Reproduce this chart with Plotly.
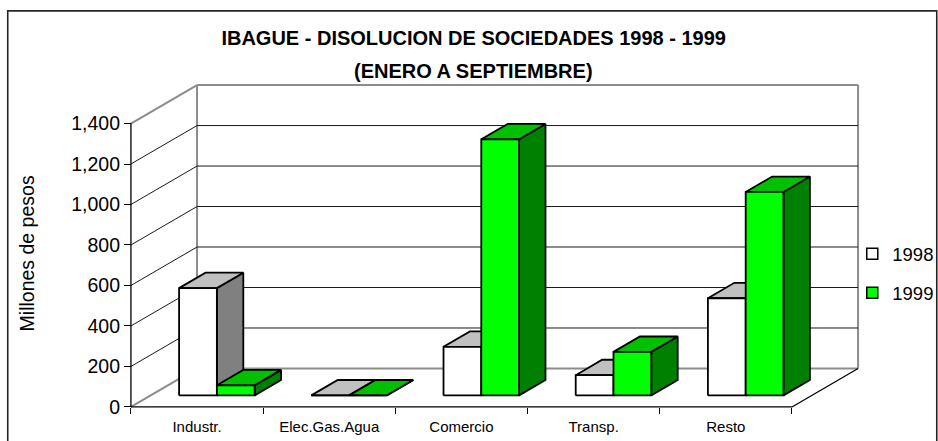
import plotly.graph_objects as go

# ---------------- data ----------------
categories = ["Industr.", "Elec.Gas.Agua", "Comercio", "Transp.", "Resto"]
values_1998 = [530, 0, 240, 100, 480]
values_1999 = [50, 0, 1265, 215, 1005]
series_names = ["1998", "1999"]
y_ticks = [0, 200, 400, 600, 800, 1000, 1200, 1400]

chart_title = "IBAGUE - DISOLUCION DE SOCIEDADES 1998 - 1999"
chart_subtitle = "(ENERO A SEPTIEMBRE)"
y_title = "Millones de pesos"

# ---------------- style ----------------
FONT = "Arial, 'Liberation Sans', sans-serif"
FACE = {  # front, top, side
    "1998": ("#FFFFFF", "#C0C0C0", "#808080"),
    "1999": ("#00FF00", "#00C000", "#008000"),
}
EDGE_GRAY = "#8C8C8C"

# oblique 3D projection (depth shift expressed in data units)
DEPTH_X = 0.5      # category units
DEPTH_Y = 190      # value units
BAR_F0, BAR_F1 = 0.3, 0.7   # bar depth slice
GAP = 1.5                   # gap width relative to one bar
BAR_W = 1.0 / (2 + GAP)

# pixel layout of the axes
FIG_W, FIG_H = 938, 441
PX0, PX_PER_X = 130.7, 132.2      # pixel of x=0, pixels per category
PY0, PY_PER_V = 406.7, 0.2024     # pixel of value 0, pixels per unit
xr = [-0.06, 5.56]
yr = [-25, 1615]
ml = PX0 + xr[0] * PX_PER_X
pw = (xr[1] - xr[0]) * PX_PER_X
mr = FIG_W - ml - pw
mt = PY0 - yr[1] * PY_PER_V
ph = (yr[1] - yr[0]) * PY_PER_V
mb = FIG_H - mt - ph


def paper_x(px):
    return (px - ml) / pw


def paper_y(py):
    return (mt + ph - py) / ph


def seg_trace(segs, color, width):
    xs, ys = [], []
    for (x0, y0), (x1, y1) in segs:
        xs += [x0, x1, None]
        ys += [y0, y1, None]
    return go.Scatter(x=xs, y=ys, mode="lines", line=dict(color=color, width=width),
                      hoverinfo="skip", showlegend=False)


n = len(categories)
vmax = y_ticks[-1]
fig = go.Figure()

# walls / floor edges (gray)
gray_segs = [
    ((0, 0), (DEPTH_X, DEPTH_Y)),
    ((0, vmax), (DEPTH_X, vmax + DEPTH_Y)),
    ((DEPTH_X, DEPTH_Y), (DEPTH_X, vmax + DEPTH_Y)),
    ((DEPTH_X, DEPTH_Y), (n + DEPTH_X, DEPTH_Y)),
    ((DEPTH_X, vmax + DEPTH_Y), (n + DEPTH_X, vmax + DEPTH_Y)),
    ((n + DEPTH_X, DEPTH_Y), (n + DEPTH_X, vmax + DEPTH_Y)),
]
fig.add_trace(seg_trace(gray_segs, EDGE_GRAY, 2))

# gridlines on side and back walls
grid_segs = []
for v in y_ticks[1:-1]:
    grid_segs.append(((0, v), (DEPTH_X, v + DEPTH_Y)))
    grid_segs.append(((DEPTH_X, v + DEPTH_Y), (n + DEPTH_X, v + DEPTH_Y)))
fig.add_trace(seg_trace(grid_segs, "#1a1a1a", 1))

# axis lines
axis_segs = [((0, 0), (0, vmax)), ((0, 0), (n, 0)), ((n, 0), (n + DEPTH_X, DEPTH_Y))]
fig.add_trace(seg_trace(axis_segs, "#000000", 1.3))


def poly_trace(polys, fill):
    xs, ys = [], []
    for p in polys:
        for (x, y) in p + [p[0]]:
            xs.append(x)
            ys.append(y)
        xs.append(None)
        ys.append(None)
    return go.Scatter(x=xs, y=ys, mode="lines", fill="toself", fillcolor=fill,
                      line=dict(color="black", width=1.8), hoverinfo="skip",
                      showlegend=False)


ax0, ay0 = BAR_F0 * DEPTH_X, BAR_F0 * DEPTH_Y
ax1, ay1 = BAR_F1 * DEPTH_X, BAR_F1 * DEPTH_Y
gap_left = (1 - 2 * BAR_W) / 2

for s, (name, vals) in enumerate(zip(series_names, [values_1998, values_1999])):
    front_c, top_c, side_c = FACE[name]
    fronts, tops, sides = [], [], []
    for i, v in enumerate(vals):
        x0 = i + gap_left + s * BAR_W
        x1 = x0 + BAR_W
        sides.append([(x1 + ax0, ay0), (x1 + ax1, ay1), (x1 + ax1, v + ay1), (x1 + ax0, v + ay0)])
        tops.append([(x0 + ax0, v + ay0), (x1 + ax0, v + ay0), (x1 + ax1, v + ay1), (x0 + ax1, v + ay1)])
        fronts.append([(x0 + ax0, ay0), (x1 + ax0, ay0), (x1 + ax0, v + ay0), (x0 + ax0, v + ay0)])
    fig.add_trace(poly_trace(sides, side_c))
    fig.add_trace(poly_trace(tops, top_c))
    fig.add_trace(poly_trace(fronts, front_c))

# legend entries
for name in series_names:
    fig.add_trace(go.Scatter(
        x=[None], y=[None], mode="markers", name=name, legendgroup=name,
        marker=dict(symbol="square", size=11, color=FACE[name][0],
                    line=dict(color="black", width=1.5)),
    ))

fig.update_layout(
    width=FIG_W, height=FIG_H,
    margin=dict(l=ml, r=mr, t=mt, b=mb, autoexpand=False),
    paper_bgcolor="white", plot_bgcolor="white",
    font=dict(family=FONT, color="black"),
    title=dict(text="<b>" + chart_title + "</b>", font=dict(size=20, family=FONT, color="black"),
               x=473.7 / FIG_W, xref="container", xanchor="center",
               y=1 - 37.5 / FIG_H, yref="container", yanchor="middle"),
    showlegend=True,
    legend=dict(x=paper_x(852), xanchor="left", y=paper_y(235), yanchor="top",
                font=dict(size=18.5, family=FONT, color="black"),
                bgcolor="rgba(0,0,0,0)", traceorder="grouped", tracegroupgap=12),
    xaxis=dict(range=xr, anchor="free", position=(0 - yr[0]) / (yr[1] - yr[0]),
               showgrid=False, zeroline=False, showline=False,
               tickmode="array", tickvals=[i + 0.5 for i in range(n)], ticktext=categories,
               ticks="outside", ticklen=6, tickcolor="rgba(0,0,0,0)",
               tickfont=dict(size=15, family=FONT, color="black"),
               minor=dict(tickmode="array", tickvals=list(range(n + 1)), ticks="outside",
                          ticklen=6, tickcolor="black", tickwidth=1, showgrid=False),
               fixedrange=True),
    yaxis=dict(range=yr, anchor="free", position=(0 - xr[0]) / (xr[1] - xr[0]),
               showgrid=False, zeroline=False, showline=False,
               tickmode="array", tickvals=y_ticks, tickformat=",",
               ticks="outside", ticklen=7, tickcolor="black", tickwidth=1,
               tickfont=dict(size=19.5, family=FONT, color="black"),
               fixedrange=True),
    annotations=[
        dict(text="<b>" + chart_subtitle + "</b>", xref="paper", yref="paper",
             x=paper_x(473.7), y=paper_y(70.5), xanchor="center", yanchor="middle",
             showarrow=False, font=dict(size=20, family=FONT, color="black")),
        dict(text=y_title, xref="paper", yref="paper", textangle=-90,
             x=paper_x(27), y=paper_y(253), xanchor="center", yanchor="middle",
             showarrow=False, font=dict(size=19.5, family=FONT, color="black")),
    ],
    shapes=[
        dict(type="rect", xref="paper", yref="paper",
             x0=paper_x(7.5), x1=paper_x(936.5), y0=paper_y(450), y1=paper_y(10.7),
             line=dict(color="#262626", width=1.6), fillcolor="rgba(0,0,0,0)", layer="below"),
    ],
)

fig.write_html("out.html", config={"displayModeBar": False},
               post_script="document.body.style.margin='0';document.body.style.overflow='hidden';")
